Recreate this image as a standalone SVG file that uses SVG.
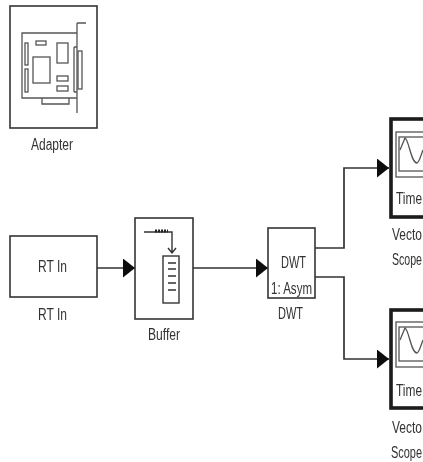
<svg xmlns="http://www.w3.org/2000/svg" width="423" height="462" viewBox="0 0 423 462">
<style>
.b{fill:#fff;stroke:#333;stroke-width:1.6}
.s{fill:#fff;stroke:#1a1a1a;stroke-width:3.6}
.l{fill:none;stroke:#555;stroke-width:1.3}
.w{fill:none;stroke:#333;stroke-width:1.4}
.c{fill:none;stroke:#333;stroke-width:1.7}
text{font-family:"Liberation Sans",Arial,sans-serif;font-size:16px;fill:#333}
</style>
<defs>
<marker id="a" markerUnits="userSpaceOnUse" markerWidth="13" markerHeight="20" refX="12" refY="9.500" orient="auto"><path d="M0 0L12 9.500L0 19Z" fill="#111"/></marker>
<filter id="f" filterUnits="userSpaceOnUse" x="0" y="0" width="423" height="462"><feGaussianBlur stdDeviation="0.35"/></filter>
</defs>
<rect width="423" height="462" fill="#fff"/>
<g filter="url(#f)">
<g id="connectors">
<path class="c" d="M97 268H135" marker-end="url(#a)"/>
<path class="c" d="M193 268H268" marker-end="url(#a)"/>
<path class="c" d="M315 248H344V168H389" marker-end="url(#a)"/>
<path class="c" d="M315 277H344V359H389" marker-end="url(#a)"/>
</g>
<g id="adapter">
<rect class="b" x="10" y="6" width="87" height="122"/>
<path class="l" d="M22 33H77V98H22ZM77 23H86M77 23V113M74 47V92M74 47H77M74 92H77M42 98V104H69V98"/>
<rect class="l" x="25" y="43" width="3" height="22"/><rect class="l" x="25" y="69" width="3" height="23"/>
<rect class="l" x="36" y="41" width="10" height="4"/><rect class="l" x="33" y="57" width="17" height="26"/>
<rect class="l" x="57" y="43" width="11" height="20"/><rect class="l" x="57" y="76" width="11" height="5"/><rect class="l" x="57" y="86" width="11" height="5"/>
<rect class="l" x="78" y="51" width="4" height="38"/>
<text x="31" y="150" textLength="42" lengthAdjust="spacingAndGlyphs">Adapter</text>
</g>
<g id="rt-in">
<rect class="b" x="10" y="236" width="87" height="61"/>
<text x="38" y="272" textLength="29" lengthAdjust="spacingAndGlyphs">RT In</text>
<text x="38" y="320" textLength="29" lengthAdjust="spacingAndGlyphs">RT In</text>
</g>
<g id="buffer">
<rect class="b" x="135" y="218" width="58" height="101"/>
<path class="w" d="M144 232H172V252M168 248L172 253L176 248"/>
<path d="M155 231H168" stroke="#222" stroke-width="3" stroke-dasharray="2 1" fill="none"/>
<rect class="w" x="163" y="256" width="16" height="47"/>
<path class="w" d="M168 263H176M168 269H176M168 276H176M168 283H176M168 290H176"/>
<text x="148" y="340" textLength="32" lengthAdjust="spacingAndGlyphs">Buffer</text>
</g>
<g id="dwt">
<rect class="b" x="268" y="228" width="47" height="70"/>
<text x="281" y="268" textLength="25" lengthAdjust="spacingAndGlyphs">DWT</text>
<text x="271" y="294" textLength="41" lengthAdjust="spacingAndGlyphs">1: Asym</text>
<text x="278" y="319" textLength="25" lengthAdjust="spacingAndGlyphs">DWT</text>
</g>
<g id="scope-1">
<rect class="s" x="391" y="119" width="40" height="98"/>
<rect class="l" x="396" y="132" width="34" height="45"/>
<rect class="l" x="399" y="137" width="30" height="34"/>
<path class="l" d="M400 150L405 138C409 140 411 163 417 163C419 163 421 155 423 150"/>
<text x="396" y="204" textLength="26" lengthAdjust="spacingAndGlyphs">Time</text>
<text x="392" y="240" textLength="30" lengthAdjust="spacingAndGlyphs">Vecto</text>
<text x="392" y="265" textLength="30" lengthAdjust="spacingAndGlyphs">Scope</text>
</g>
<g id="scope-2">
<rect class="s" x="391" y="310" width="40" height="98"/>
<rect class="l" x="396" y="322" width="34" height="45"/>
<rect class="l" x="399" y="327" width="30" height="34"/>
<path class="l" d="M400 340L405 328C409 330 411 353 417 353C419 353 421 345 423 340"/>
<text x="396" y="396" textLength="26" lengthAdjust="spacingAndGlyphs">Time</text>
<text x="392" y="433" textLength="30" lengthAdjust="spacingAndGlyphs">Vecto</text>
<text x="391" y="458" textLength="31" lengthAdjust="spacingAndGlyphs">Scope</text>
</g>
</g>
</svg>
